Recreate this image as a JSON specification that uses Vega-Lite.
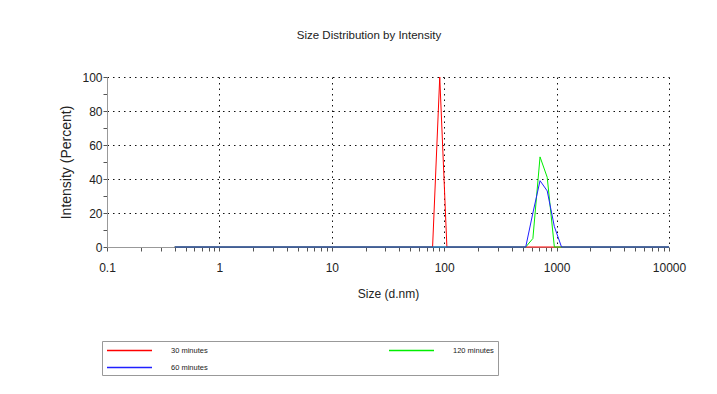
{
  "$schema": "https://vega.github.io/schema/vega-lite/v6.json",
  "width": 562,
  "height": 170,
  "autosize": {"type": "none"},
  "padding": {"left": 107, "top": 77, "right": 48, "bottom": 147},
  "background": "white",
  "config": {"view": {"stroke": null}},
  "title": {
    "text": "Size Distribution by Intensity",
    "font": "Liberation Sans",
    "fontSize": 11.5,
    "fontWeight": "normal",
    "color": "#222",
    "dx": -19,
    "offset": 30
  },
  "data": {
    "values": [
      {"series": "30 minutes", "size": 0.4, "intensity": 0},
      {"series": "30 minutes", "size": 78.82, "intensity": 0},
      {"series": "30 minutes", "size": 91.28, "intensity": 100},
      {"series": "30 minutes", "size": 105.7, "intensity": 0},
      {"series": "30 minutes", "size": 10000, "intensity": 0},
      {"series": "120 minutes", "size": 0.4, "intensity": 0},
      {"series": "120 minutes", "size": 531.2, "intensity": 0},
      {"series": "120 minutes", "size": 615.1, "intensity": 5},
      {"series": "120 minutes", "size": 712.4, "intensity": 53},
      {"series": "120 minutes", "size": 825.0, "intensity": 41},
      {"series": "120 minutes", "size": 955.4, "intensity": 0},
      {"series": "120 minutes", "size": 10000, "intensity": 0},
      {"series": "60 minutes", "size": 0.4, "intensity": 0},
      {"series": "60 minutes", "size": 531.2, "intensity": 0},
      {"series": "60 minutes", "size": 615.1, "intensity": 20},
      {"series": "60 minutes", "size": 712.4, "intensity": 39},
      {"series": "60 minutes", "size": 825.0, "intensity": 33},
      {"series": "60 minutes", "size": 955.4, "intensity": 12},
      {"series": "60 minutes", "size": 1106, "intensity": 0},
      {"series": "60 minutes", "size": 10000, "intensity": 0}
    ]
  },
  "mark": {"type": "line", "strokeWidth": 1, "interpolate": "linear"},
  "encoding": {
    "x": {
      "field": "size",
      "type": "quantitative",
      "scale": {"type": "log", "domain": [0.1, 10000], "nice": false},
      "axis": {
        "title": "Size (d.nm)",
        "values": [0.1, 0.2, 0.3, 0.4, 0.5, 0.6, 0.7, 0.8, 0.9, 1, 2, 3, 4, 5, 6, 7, 8, 9, 10, 20, 30, 40, 50, 60, 70, 80, 90, 100, 200, 300, 400, 500, 600, 700, 800, 900, 1000, 2000, 3000, 4000, 5000, 6000, 7000, 8000, 9000, 10000],
        "labelExpr": "indexof([0.1, 1, 10, 100, 1000, 10000], datum.value) >= 0 ? format(datum.value, '~g') : ''",
        "labelOverlap": false,
        "labelFlush": false,
        "labelFont": "Liberation Sans",
        "labelFontSize": 12,
        "labelColor": "#222",
        "labelPadding": 11,
        "tickSize": 4,
        "tickColor": "#555",
        "domainColor": "#999",
        "grid": true,
        "gridColor": "#111",
        "gridDash": [1.5, 4],
        "gridOpacity": {"condition": {"test": "indexof([1, 10, 100, 1000, 10000], datum.value) >= 0", "value": 1}, "value": 0},
        "titleFont": "Liberation Sans",
        "titleFontSize": 12,
        "titleFontWeight": "normal",
        "titleColor": "#222",
        "titlePadding": 15
      }
    },
    "y": {
      "field": "intensity",
      "type": "quantitative",
      "scale": {"domain": [0, 100], "nice": false},
      "axis": {
        "title": "Intensity (Percent)",
        "values": [0, 10, 20, 30, 40, 50, 60, 70, 80, 90, 100],
        "labelExpr": "datum.value % 20 === 0 ? datum.label : ''",
        "labelFont": "Liberation Sans",
        "labelFontSize": 12,
        "labelColor": "#222",
        "labelPadding": 1,
        "tickSize": 4,
        "tickColor": "#555",
        "domainColor": "#999",
        "grid": true,
        "gridColor": "#111",
        "gridDash": [1.5, 4],
        "gridOpacity": {"condition": {"test": "datum.value % 20 === 0 && datum.value > 0", "value": 1}, "value": 0},
        "titleFont": "Liberation Sans",
        "titleFontSize": 14,
        "titleFontWeight": "normal",
        "titleColor": "#222",
        "titlePadding": 8
      }
    },
    "color": {
      "field": "series",
      "type": "nominal",
      "scale": {"domain": ["30 minutes", "120 minutes", "60 minutes"], "range": ["#ff0000", "#00ee00", "#2020ff"]},
      "legend": {
        "orient": "none",
        "legendX": -5,
        "legendY": 264,
        "direction": "horizontal",
        "columns": 2,
        "title": null,
        "symbolType": "M-1,0H9",
        "symbolSize": 81,
        "symbolStrokeWidth": 1.5,
        "labelFont": "Liberation Sans",
        "labelFontSize": 7.5,
        "labelColor": "#222",
        "labelOffset": 54,
        "columnPadding": 178,
        "rowPadding": 8,
        "padding": 4,
        "strokeColor": "#999",
        "fillColor": "white"
      }
    }
  }
}
